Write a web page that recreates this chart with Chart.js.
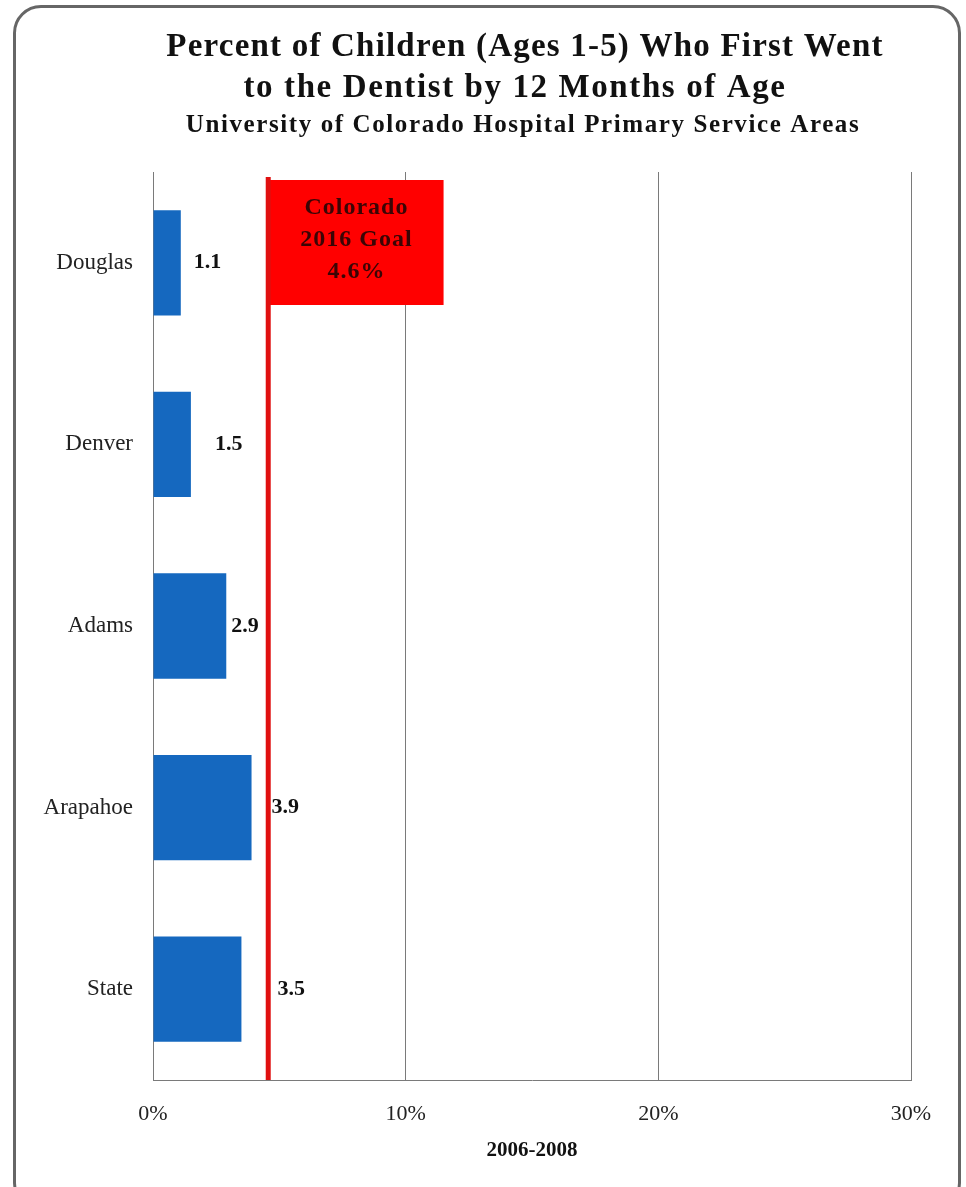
<!DOCTYPE html>
<html>
<head>
<meta charset="utf-8">
<title>Dentist by 12 Months</title>
<script src="https://cdn.jsdelivr.net/npm/chart.js@4"></script>
<style>
	html, body { margin: 0; padding: 0; background: #fff; overflow: hidden; }
	#wrap { position: relative; width: 966px; height: 1187px; }
	#frame {
		position: absolute; left: 13px; top: 5px; width: 942px; height: 1200px;
		border: 3px solid #666; border-radius: 28px; pointer-events: none;
	}
	canvas { position: absolute; left: 0; top: 0; }
</style>
</head>
<body>
<div id="wrap">
	<canvas id="myChart" width="966" height="1187"></canvas>
	<div id="frame"></div>
</div>
<script>
var areas = ["Douglas", "Denver", "Adams", "Arapahoe", "State"];
var percents = [1.1, 1.5, 2.9, 3.9, 3.5];
var xTicks = [0, 10, 20, 30];
var goalValue = 4.6;
var goalText = ["Colorado", "2016 Goal", "4.6%"];
var periodLabel = "2006-2008";
var titleLines = ["Percent of Children (Ages 1-5) Who First Went", "to the Dentist by 12 Months of Age"];
var subtitleText = "University of Colorado Hospital Primary Service Areas";

var serif = "'Liberation Serif', 'DejaVu Serif', serif";

// title block, centred a bit right of the canvas middle like the original
var titleBlock = {
	id: "titleBlock",
	afterDraw: function (chart) {
		var ctx = chart.ctx;
		ctx.save();
		ctx.fillStyle = "#111";
		ctx.textAlign = "center";
		ctx.textBaseline = "middle";
		ctx.font = "bold 33px " + serif;
		ctx.letterSpacing = "1.2px";
		ctx.fillText(titleLines[0], 525, 47);
		ctx.letterSpacing = "1.6px";
		ctx.fillText(titleLines[1], 515, 88);
		ctx.font = "bold 25px " + serif;
		ctx.letterSpacing = "1.6px";
		ctx.fillText(subtitleText, 523, 126);
		ctx.restore();
	}
};

// value labels next to the bars (small per-bar nudge like the original)
var valueLabels = {
	id: "valueLabels",
	afterDatasetsDraw: function (chart, args, opts) {
		var ctx = chart.ctx;
		var meta = chart.getDatasetMeta(0);
		ctx.save();
		ctx.font = "bold 22px " + serif;
		ctx.fillStyle = "#111";
		ctx.textAlign = "left";
		ctx.textBaseline = "middle";
		meta.data.forEach(function (bar, i) {
			ctx.fillText(percents[i].toFixed(1), bar.x + opts.nudge[i], bar.y);
		});
		ctx.restore();
	}
};

// red goal line with the flag
var goalFlag = {
	id: "goalFlag",
	afterDatasetsDraw: function (chart) {
		var ctx = chart.ctx;
		var area = chart.chartArea;
		var x = chart.scales.x.getPixelForValue(goalValue);
		var xEnd = chart.scales.x.getPixelForValue(11.5);
		ctx.save();
		ctx.fillStyle = "#ff0000";
		ctx.fillRect(x, area.top + 8, xEnd - x, 125);
		ctx.strokeStyle = "#e01010";
		ctx.lineWidth = 5;
		ctx.beginPath();
		ctx.moveTo(x - 1, area.top + 5);
		ctx.lineTo(x - 1, area.bottom);
		ctx.stroke();
		ctx.font = "bold 24px " + serif;
		ctx.letterSpacing = "1px";
		ctx.fillStyle = "#3a0505";
		ctx.textAlign = "center";
		ctx.textBaseline = "middle";
		var cx = (x + xEnd) / 2;
		for (var i = 0; i < goalText.length; i++) {
			ctx.fillText(goalText[i], cx, area.top + 36 + i * 32);
		}
		ctx.restore();
	}
};

var ctx = document.getElementById("myChart").getContext("2d");
var myChart = new Chart(ctx, {
	type: "bar",
	data: {
		labels: areas,
		datasets: [
			{
				label: periodLabel,
				data: percents,
				backgroundColor: "#1568bf",
				borderWidth: 0,
				barPercentage: 0.58,
				categoryPercentage: 1.0
			}
		]
	},
	options: {
		indexAxis: "y",
		responsive: false,
		animation: false,
		layout: { padding: { top: 172, left: 20, right: 55, bottom: 20 } },
		plugins: {
			legend: { display: false },
			tooltip: { enabled: false },
			valueLabels: { nudge: [13, 24, 5, 20, 36] }
		},
		scales: {
			x: {
				min: 0,
				max: 30,
				afterBuildTicks: function (scale) {
					scale.ticks = xTicks.map(function (v) { return { value: v }; });
				},
				afterFit: function (scale) { scale.height = 87; },
				grid: { color: "#7a7a7a", lineWidth: 1, drawTicks: false },
				border: { display: true, color: "#7a7a7a", width: 1 },
				ticks: {
					color: "#222",
					padding: 21,
					font: { family: serif, size: 22 },
					callback: function (v) { return v + "%"; }
				},
				title: {
					display: true,
					text: periodLabel,
					color: "#111",
					font: { family: serif, size: 21, weight: "bold" },
					padding: { top: 6 }
				}
			},
			y: {
				afterFit: function (scale) { scale.width = 133; },
				grid: { display: false, drawTicks: false },
				border: { display: true, color: "#7a7a7a", width: 1 },
				ticks: {
					color: "#222",
					padding: 20,
					font: { family: serif, size: 23 }
				}
			}
		}
	},
	plugins: [titleBlock, valueLabels, goalFlag]
});
</script>
</body>
</html>
